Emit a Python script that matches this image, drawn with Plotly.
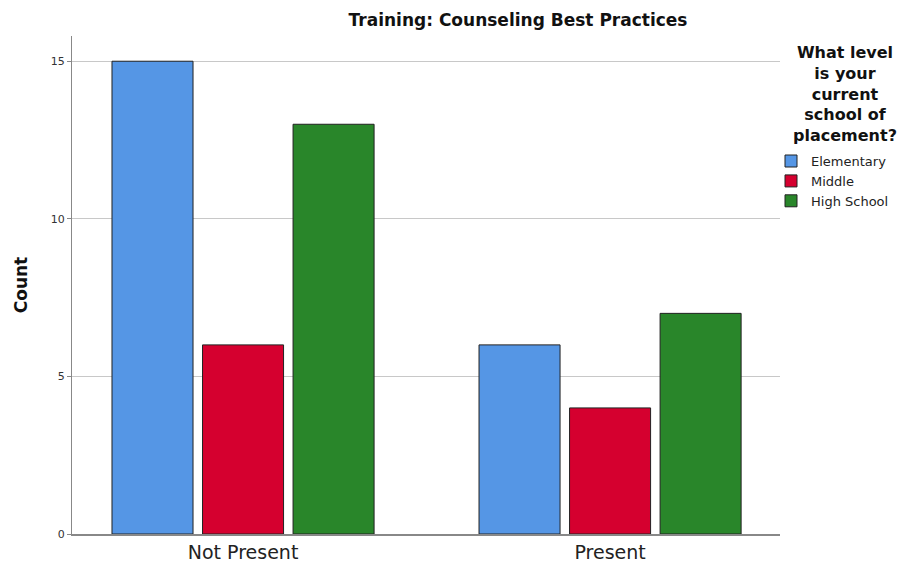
import plotly.graph_objects as go

categories = ['Not Present', 'Present']
levels = ['Elementary', 'Middle', 'High School']
elementary = [15, 6]
middle = [6, 4]
high_school = [13, 7]
y_ticks = [0, 5, 10, 15]
legend_title = 'What level<br>is your<br>current<br>school of<br>placement?'

level_colors = ['#5596E5', '#D5002F', '#29862A']
font_family = 'DejaVu Sans'

fig = go.Figure()

for name, values, color in zip(levels, [elementary, middle, high_school], level_colors):
    fig.add_trace(go.Bar(x=categories,
                         y=values,
                         name=name,
                         marker_color=color,
                         marker_line=dict(color='#222222', width=1)))

# page body has an 8px margin, so the figure is 8px smaller than the window
fig.update_layout(width=898,
                  height=563,
                  autosize=False,
                  paper_bgcolor='white',
                  plot_bgcolor='white',
                  barmode='group',
                  bargap=0.26,
                  bargroupgap=0.105,
                  margin=dict(l=64, r=126, t=28, b=37),
                  font=dict(family=font_family, color='#222222'),
                  title=dict(text='<b>Training: Counseling Best Practices</b>',
                             x=510 / 898, xanchor='center',
                             y=1 - 12 / 563, yanchor='middle',
                             font=dict(size=17, color='#111111')),
                  )

# y axis Settings
fig.update_layout(yaxis=dict(range=[0, 15.8],
                             tickvals=y_ticks,
                             tickfont=dict(size=11, color='#333333'),
                             showgrid=True,
                             gridcolor='#C8C8C8',
                             gridwidth=1,
                             zeroline=False,
                             showline=True,
                             linecolor='#888888',
                             linewidth=1,
                             ticks='outside',
                             ticklen=4,
                             tickcolor='#888888',
                             automargin=False,
                             title=dict(text='<b>Count</b>', font=dict(size=17, color='#111111'),
                                        standoff=18)))

# x axis Settings
fig.update_layout(xaxis=dict(range=[-0.466, 1.463],
                             tickfont=dict(size=19, color='#222222'),
                             showgrid=False,
                             showline=True,
                             linecolor='#888888',
                             linewidth=1.5,
                             automargin=False,
                             ticks=''))

# Legend Settings
fig.update_layout(legend=dict(x=0.9873,
                              xanchor='left',
                              y=0.779,
                              yanchor='top',
                              font=dict(size=13, color='#222222'),
                              itemwidth=30,
                              tracegroupgap=0))

# legend title as a centred annotation
fig.add_annotation(text='<b>' + legend_title + '</b>',
                   xref='paper', yref='paper',
                   x=1.0918, y=0.99,
                   xanchor='center', yanchor='top',
                   align='center',
                   showarrow=False,
                   font=dict(size=16, color='#111111'))

fig.write_html("out.html")
